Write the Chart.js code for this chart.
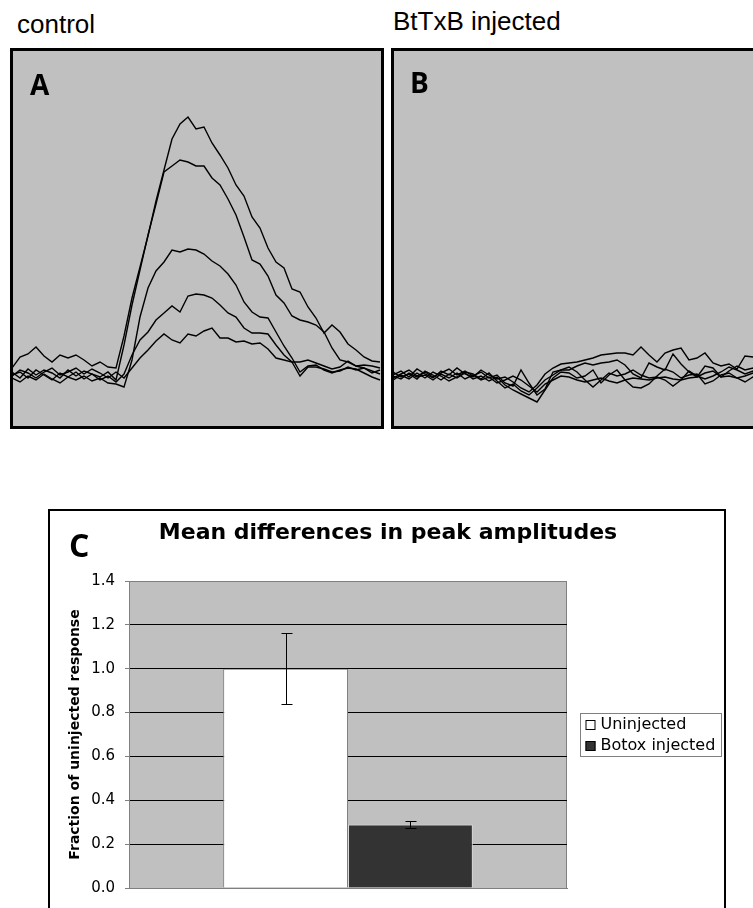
<!DOCTYPE html>
<html>
<head>
<meta charset="utf-8">
<script src="https://cdn.jsdelivr.net/npm/chart.js@4.4.0/dist/chart.umd.min.js"></script>
<style>
  html, body { margin: 0; padding: 0; background: #fff; overflow: hidden; }
  body { width: 753px; height: 908px; position: relative; }
  .cond { position: absolute; font-family: 'Liberation Sans', Arial, sans-serif; font-size: 26px; line-height: 26px; color: #000; white-space: nowrap; }
  .panel { position: absolute; border: 3px solid #000; background: #c0c0c0; width: 368px; height: 375px; }
  .letter { position: absolute; font-family: 'Open Sans', sans-serif; font-weight: 700; color: #000; }
  #boxC { position: absolute; left: 48px; top: 509px; width: 678px; height: 420px; box-sizing: border-box; border: 2px solid #000; background: #fff; }
  #titleC { position: absolute; left: 88px; width: 600px; top: 521px; text-align: center; font-family: 'DejaVu Sans', sans-serif; font-weight: bold; font-size: 22px; line-height: 22px; white-space: nowrap; }
  #wrapC { position: absolute; left: 0; top: 500px; width: 753px; height: 408px; }
</style>
</head>
<body>

<div class="cond" style="left:17px; top:11px">control</div>
<div class="cond" style="left:393px; top:8px">BtTxB injected</div>

<div class="panel" style="left:10px; top:48px"><canvas id="chartA"></canvas></div>
<div class="panel" style="left:391px; top:48px"><canvas id="chartB"></canvas></div>
<div class="letter" style="left:30px; top:70px; font-size:28px; line-height:28px">A</div>
<div class="letter" style="left:410px; top:68px; font-size:28px; line-height:28px">B</div>

<div id="boxC"></div>
<div id="wrapC"><canvas id="chartC"></canvas></div>
<div class="letter" style="left:69px; top:529px; font-size:32px; line-height:32px">C</div>
<div id="titleC">Mean differences in peak amplitudes</div>

<script>
// sample times (arbitrary units), shared by every trace
const timePts = [0,8,16,24,32,40,48,56,64,72,80,88,96,104,112,120,128,136,144,152,160,168,176,184,192,200,208,216,224,232,240,248,256,264,272,280,288,296,304,312,320,328,336,344,352,360,368];

// control traces (A), response above baseline
const ctrl1 = [4,15,18,25,16,10,17,14,17,12,6,10,5,4,36,74,105,136,171,202,233,248,255,243,245,229,217,204,187,176,155,144,124,110,104,83,80,65,54,39,47,40,28,22,15,11,10];
const ctrl2 = [-3,0,-6,2,-3,-8,-1,-5,0,-7,-2,-5,0,-8,27,67,102,137,168,200,206,212,210,206,206,194,187,173,157,135,112,108,96,77,69,56,52,50,47,40,24,12,10,6,4,-1,2];
const ctrl3 = [-6,-10,-4,-8,-2,-7,-11,-5,-8,-4,-9,-6,-11,-12,-15,12,55,84,101,110,122,120,123,122,118,111,106,98,87,70,60,55,54,40,26,14,0,6,7,2,-1,2,4,3,-1,-5,-8];
const ctrl4 = [0,-6,3,-3,2,-1,-6,2,-4,1,-2,-8,-4,-10,-2,17,32,40,52,59,66,60,76,78,77,74,67,59,55,44,39,39,38,27,17,10,10,12,9,6,3,5,11,6,7,6,4];
const ctrl5 = [-4,2,-1,-6,0,4,-3,0,4,-2,3,-1,-6,0,-6,4,14,22,31,38,32,29,38,36,41,44,34,34,30,31,28,29,23,14,12,10,-4,5,5,3,0,1,5,2,4,1,-2];

// BtTxB injected traces (B)
const inj1 = [-3,1,-5,3,-2,-6,1,-3,4,-2,-5,2,-3,-7,-5,-10,-16,-20,-13,-2,4,8,9,10,12,14,17,18,19,19,17,25,17,10,19,22,24,12,14,19,9,6,8,3,16,15,12];
const inj2 = [-6,-2,2,-4,0,-5,-1,3,-3,1,-4,0,-6,-3,-11,-14,2,-11,-23,-17,0,2,2,6,9,7,9,10,12,7,-2,-6,9,5,2,18,8,0,-5,6,4,-5,1,6,2,4,0];
const inj3 = [0,-5,-2,-7,1,-3,-8,-2,-6,-1,-7,-4,-9,-5,-13,-18,-22,-26,-30,-18,-6,0,-1,-6,-4,2,-11,-3,2,-8,-15,-16,-12,-4,3,0,-6,-3,-2,-12,-9,-3,-1,-6,-10,-5,-3];
const inj4 = [-8,-3,-7,-1,-6,0,-4,-9,-5,0,-2,-7,-1,-9,-16,-12,-19,-23,-16,-8,-3,2,5,0,-8,-15,-8,-1,-4,-2,2,-3,-6,-5,-8,-14,-8,1,-4,-7,-4,0,5,2,-2,1,-4];
const inj5 = [-4,-7,-1,-5,-3,-8,-2,-6,-1,-7,-3,-8,-5,-11,-8,-4,-8,-14,-20,-12,-8,-4,-5,-8,-10,-8,-6,-9,-11,-8,-6,-7,-8,-6,-5,-7,-8,-6,-5,-1,1,-5,-4,-6,-4,-1,-3];

// panel C
const categories = ['Peak amplitude'];
const groups = ['Uninjected', 'Botox injected'];
const meanFraction = [1.0, 0.29];
const errFraction = [0.162, 0.016];
const yTicks = [0, 0.2, 0.4, 0.6, 0.8, 1.0, 1.2, 1.4];

Chart.defaults.font.family = "'DejaVu Sans', sans-serif";

const traceChart = (id, traces) => {
  return new Chart(document.getElementById(id), {
    type: 'line',
    data: {
      datasets: traces.map((tr, i) => ({
        label: 'trace ' + (i + 1),
        data: tr.map((v, k) => ({ x: timePts[k], y: v })),
        borderColor: '#000',
        borderWidth: 1.4,
        pointRadius: 0,
        tension: 0,
        fill: false,
      })),
    },
    options: {
      animation: false,
      responsive: true,
      maintainAspectRatio: false,
      layout: { padding: 0 },
      plugins: { legend: { display: false }, tooltip: { enabled: false } },
      scales: {
        x: { type: 'linear', display: false, min: 1, max: 369 },
        y: { display: false, min: -54, max: 321 },
      },
    },
  });
};

traceChart('chartA', [ctrl1, ctrl2, ctrl3, ctrl4, ctrl5]);
traceChart('chartB', [inj1, inj2, inj3, inj4, inj5]);

const plotBg = {
  id: 'plotBg',
  beforeDraw(chart) {
    const { ctx, chartArea: a } = chart;
    ctx.save();
    ctx.fillStyle = '#c0c0c0';
    ctx.fillRect(a.left, a.top, a.right - a.left, a.bottom - a.top);
    ctx.strokeStyle = '#808080';
    ctx.lineWidth = 1;
    ctx.strokeRect(a.left + 0.5, a.top + 0.5, a.right - a.left - 1, a.bottom - a.top);
    ctx.restore();
  },
};

const errorBars = {
  id: 'errorBars',
  afterDatasetsDraw(chart) {
    const { ctx } = chart;
    const y = chart.scales.y;
    ctx.save();
    ctx.strokeStyle = '#000';
    ctx.lineWidth = 1;
    chart.data.datasets.forEach((ds, i) => {
      const bar = chart.getDatasetMeta(i).data[0];
      const x = Math.round(bar.x) + 0.5;
      const hi = Math.round(y.getPixelForValue(ds.data[0] + errFraction[i])) + 0.5;
      const lo = Math.round(y.getPixelForValue(ds.data[0] - errFraction[i])) + 0.5;
      ctx.beginPath();
      ctx.moveTo(x, hi); ctx.lineTo(x, lo);
      ctx.moveTo(x - 5, hi); ctx.lineTo(x + 6, hi);
      ctx.moveTo(x - 5, lo); ctx.lineTo(x + 6, lo);
      ctx.stroke();
    });
    ctx.restore();
  },
};

const boxLegend = {
  id: 'boxLegend',
  afterDraw(chart) {
    const { ctx, chartArea: a } = chart;
    const sets = chart.data.datasets;
    ctx.save();
    ctx.font = "16px 'DejaVu Sans'";
    const maxW = Math.max(...sets.map(ds => ctx.measureText(ds.label).width));
    const rowH = 21;
    const w = Math.round(maxW) + 26;
    const h = sets.length * rowH + 1;
    const x0 = Math.round(a.right) + 13.5;
    const y0 = Math.round((a.top + a.bottom) / 2 - h / 2) + 0.5;
    ctx.fillStyle = '#fff';
    ctx.fillRect(x0, y0, w, h);
    ctx.strokeStyle = '#808080';
    ctx.strokeRect(x0, y0, w, h);
    ctx.textBaseline = 'middle';
    sets.forEach((ds, i) => {
      const cy = y0 + rowH / 2 + i * rowH + 1;
      ctx.fillStyle = ds.backgroundColor;
      ctx.fillRect(x0 + 5, Math.round(cy - 5), 10, 10);
      ctx.strokeStyle = '#000';
      ctx.strokeRect(x0 + 5.5, Math.round(cy - 5) + 0.5, 9, 9);
      ctx.fillStyle = '#000';
      ctx.fillText(ds.label, x0 + 20, cy);
    });
    ctx.restore();
  },
};

new Chart(document.getElementById('chartC'), {
  type: 'bar',
  data: {
    labels: categories,
    datasets: [
      { label: groups[0], data: [meanFraction[0]], backgroundColor: '#ffffff', borderColor: '#808080', borderWidth: 1 },
      { label: groups[1], data: [meanFraction[1]], backgroundColor: '#333333', borderColor: '#d9d9d9', borderWidth: 1 },
    ],
  },
  options: {
    animation: false,
    responsive: true,
    maintainAspectRatio: false,
    layout: { padding: { left: 49, right: 186, top: 81, bottom: 20 } },
    datasets: { bar: { categoryPercentage: 0.57, barPercentage: 1.0 } },
    plugins: { legend: { display: false }, tooltip: { enabled: false } },
    scales: {
      x: {
        ticks: { display: false },
        grid: { display: false, drawTicks: false },
        border: { display: true, color: '#808080' },
        afterFit: (s) => { s.height = 0; },
      },
      y: {
        min: 0,
        max: 1.4,
        afterFit: (s) => { s.width = 80; },
        afterBuildTicks: (s) => { s.ticks = yTicks.map(v => ({ value: v })); },
        ticks: { padding: 10, color: '#000', font: { size: 15 }, callback: (v) => Number(v).toFixed(1) },
        grid: {
          color: (c) => (c.tick && (c.tick.value === 0 || c.tick.value > 1.39)) ? '#808080' : '#000',
          tickLength: 4,
          tickColor: '#808080',
        },
        border: { color: '#808080' },
        title: {
          display: true,
          text: 'Fraction of uninjected response',
          color: '#000',
          font: { size: 14, weight: 'bold' },
          padding: { top: 18, bottom: 0 },
        },
      },
    },
  },
  plugins: [plotBg, errorBars, boxLegend],
});
</script>
</body>
</html>
